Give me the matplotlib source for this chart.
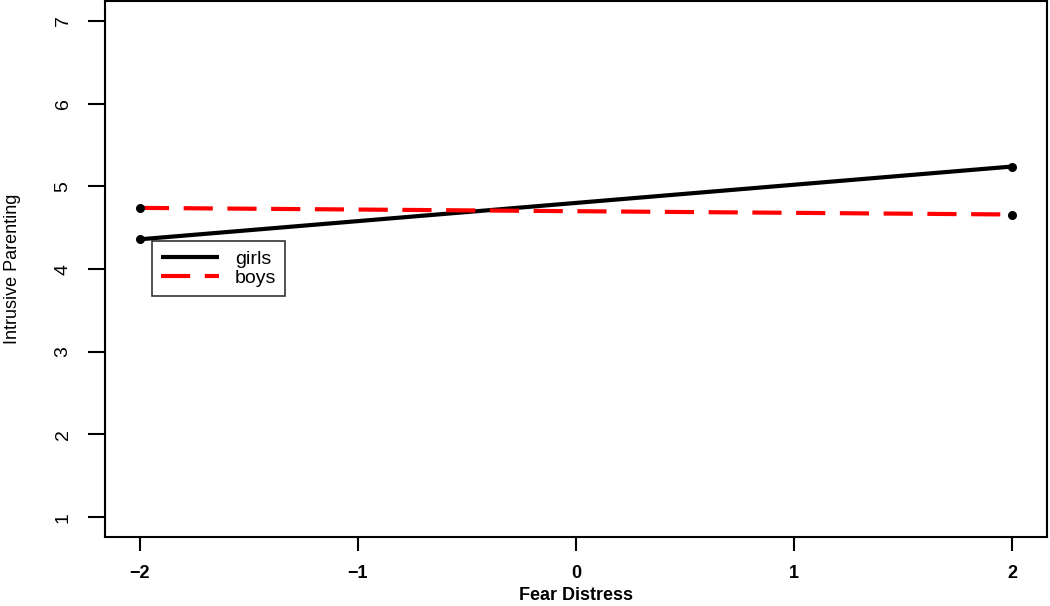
import matplotlib
matplotlib.use("Agg")
import matplotlib.pyplot as plt

# data
fear_distress = [-2, 2]
girls = [4.36, 5.24]
boys = [4.74, 4.66]
x_ticks = [-2, -1, 0, 1, 2]
y_ticks = [1, 2, 3, 4, 5, 6, 7]

plt.rcParams['font.family'] = ['Liberation Sans', 'DejaVu Sans']

fig = plt.figure(figsize=(10.5, 6.06), dpi=100)
ax = fig.add_axes([0.1, 0.114, 0.897, 0.884])

ax.plot(fear_distress, girls, color='black', lw=3, solid_capstyle='butt', label='girls')
ax.plot(fear_distress, boys, color='red', lw=3, dashes=(7, 3.5), dash_capstyle='butt', label='boys')
ax.scatter(fear_distress, girls, color='black', s=30, zorder=3)
ax.scatter(fear_distress, boys, color='black', s=30, zorder=3)

ax.set_xlim(-2.16, 2.16)
ax.set_ylim(0.76, 7.24)
ax.set_xticks(x_ticks)
ax.set_yticks(y_ticks)
ax.set_xticklabels(['\u22122', '\u22121', '0', '1', '2'], fontsize=13, fontweight='bold')
ax.set_yticklabels([str(v) for v in y_ticks], fontsize=14, rotation=90, va='center')
ax.tick_params(axis='x', length=10, width=1.5, pad=10)
ax.tick_params(axis='y', length=12, width=1.5, pad=12)
for s in ax.spines.values():
    s.set_linewidth(1.5)

ax.set_xlabel('Fear Distress', fontsize=13, fontweight='bold', labelpad=4)
ax.set_ylabel('Intrusive Parenting', fontsize=13, labelpad=24)

leg = ax.legend(loc='upper left', bbox_to_anchor=(0.04, 0.57), fontsize=14, frameon=True,
                fancybox=False, edgecolor='black', handlelength=3, borderpad=0.45,
                labelspacing=0.1)
leg.get_frame().set_linewidth(1.2)

fig.savefig('out.png', dpi=100)
